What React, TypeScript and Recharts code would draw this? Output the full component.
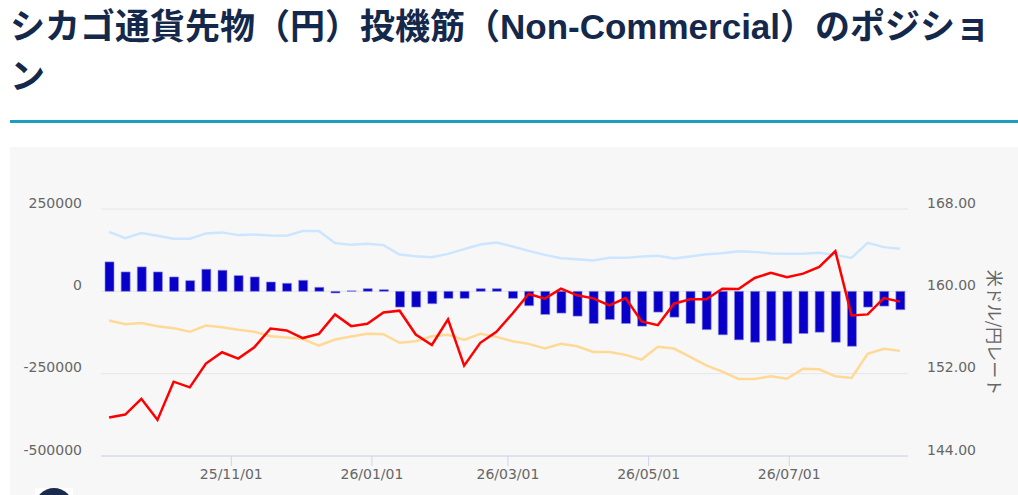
import { ComposedChart, Bar, Line, XAxis, YAxis, CartesianGrid } from "recharts";

// weekly report dates (Tuesday)
const dates = [
  "2025-09-09", "2025-09-16", "2025-09-23", "2025-09-30", "2025-10-07", "2025-10-14", "2025-10-21", "2025-10-28",
  "2025-11-04", "2025-11-11", "2025-11-18", "2025-11-25", "2025-12-02", "2025-12-09", "2025-12-16", "2025-12-23",
  "2025-12-30", "2026-01-06", "2026-01-13", "2026-01-20", "2026-01-27", "2026-02-03", "2026-02-10", "2026-02-17",
  "2026-02-24", "2026-03-03", "2026-03-10", "2026-03-17", "2026-03-24", "2026-03-31", "2026-04-07", "2026-04-14",
  "2026-04-21", "2026-04-28", "2026-05-05", "2026-05-12", "2026-05-19", "2026-05-26", "2026-06-02", "2026-06-09",
  "2026-06-16", "2026-06-23", "2026-06-30", "2026-07-07", "2026-07-14", "2026-07-21", "2026-07-28", "2026-08-04",
  "2026-08-11", "2026-08-18",
];

// long positions
const longPos = [
  180800, 161600, 176800, 168700, 159500, 159500, 175900, 179000, 170700, 172800,
  169800, 168700, 183000, 183000, 146400, 141200, 144300, 140300, 111900, 106700,
  103700, 113800, 128100, 142400, 148500, 136300, 122900, 110700, 100600, 97600,
  93600, 101600, 101600, 105700, 107700, 99700, 105700, 112800, 115900, 122000,
  119800, 114900, 113800, 113800, 116800, 110700, 101600, 147300, 134200, 129100,
];

// short positions
const shortPos = [
  -88400, -99600, -96500, -105700, -111800, -122900, -103700, -108800, -116900, -122900,
  -136200, -140300, -145000, -164600, -146400, -137200, -129100, -130100, -156400, -151400,
  -136200, -132200, -147400, -129100, -138200, -151400, -159500, -173800, -159500, -166700,
  -183900, -183900, -193000, -207300, -168600, -173800, -199100, -225000, -243900, -266200,
  -266200, -258200, -265300, -234800, -236800, -258200, -263200, -190000, -174700, -180800,
];

// net positions
const netPos = [
  89400, 58900, 74200, 58900, 43700, 32500, 67100, 64000, 47800, 43700,
  28400, 24400, 33500, 12200, -5000, 1500, 8100, 5100, -47800, -47800,
  -37600, -21300, -21300, 8100, 8100, -21300, -43600, -70100, -66100, -75300,
  -97600, -85400, -97600, -105700, -63100, -78400, -97600, -116300, -132000, -147300,
  -154600, -150300, -158500, -128100, -124100, -154600, -166800, -47800, -44800, -55800,
];

// USD/JPY
const usdJpy = [
  147.74, 148.03, 149.56, 147.51, 151.22, 150.67, 152.98, 154.08, 153.46, 154.57,
  156.39, 156.2, 155.46, 155.87, 157.76, 156.62, 156.85, 157.95, 158.12, 155.8,
  154.79, 157.27, 152.78, 155.0, 156.07, 157.85, 159.74, 159.29, 160.26, 159.61,
  159.32, 158.63, 159.35, 157.07, 156.71, 158.8, 159.22, 159.22, 160.26, 160.23,
  161.3, 161.79, 161.37, 161.72, 162.38, 163.9, 157.66, 157.76, 159.35, 159.0,
];

const monthTicks = ["2025-11-01", "2026-01-01", "2026-03-01", "2026-05-01", "2026-07-01"];
const leftTicks = [-500000, -250000, 0, 250000];
const rightTicks = [144, 152, 160, 168];

const DAY = 86400000;
const data = dates.map((d, i) => ({
  t: Date.parse(d),
  long: longPos[i],
  short: shortPos[i],
  net: netPos[i],
  rate: usdJpy[i],
}));
const xTicks = monthTicks.map((d) => Date.parse(d));
const xDomain = [data[0].t - 3.5 * DAY, data[data.length - 1].t + 3.5 * DAY];

const tickFont = "'DejaVu Sans', sans-serif";

const fmtDate = (v: number) => {
  const d = new Date(v);
  const yy = String(d.getUTCFullYear()).slice(2);
  const mm = String(d.getUTCMonth() + 1).padStart(2, "0");
  const dd = String(d.getUTCDate()).padStart(2, "0");
  return `${yy}/${mm}/${dd}`;
};

const LeftTick = (props: any) => (
  <text x={props.x} y={props.y - 1.5} textAnchor="end" fill="#666" fontSize={14} fontFamily={tickFont}>
    {props.payload.value}
  </text>
);

const RightTick = (props: any) => (
  <text x={props.x} y={props.y - 1.5} textAnchor="start" fill="#666" fontSize={14} fontFamily={tickFont}>
    {Number(props.payload.value).toFixed(2)}
  </text>
);

const BottomTick = (props: any) => (
  <text x={props.x} y={props.y + 13} textAnchor="middle" fill="#666" fontSize={14} fontFamily={tickFont}>
    {fmtDate(props.payload.value)}
  </text>
);

const RateLabel = (props: any) => {
  const vb = props.viewBox;
  const cx = vb.x + 87;
  const cy = vb.y + vb.height / 2;
  return (
    <text
      x={cx}
      y={cy}
      textAnchor="middle"
      dominantBaseline="central"
      fill="#666"
      fontSize={17}
      fontFamily="'Noto Sans CJK JP', sans-serif"
      transform={`rotate(90, ${cx}, ${cy})`}
    >
      米ドル/円レート
    </text>
  );
};

export default function App() {
  return (
    <div style={{ position: "absolute", left: 0, top: 0, width: 1018, height: 495, overflow: "hidden", background: "#fff" }}>
      <div
        style={{
          position: "absolute",
          left: 10,
          top: 2,
          fontSize: 35,
          lineHeight: "50px",
          fontWeight: 700,
          color: "#14284b",
          whiteSpace: "nowrap",
          fontFamily: "'Liberation Sans', 'Noto Sans CJK JP', sans-serif",
        }}
      >
        シカゴ通貨先物（円）投機筋（Non-Commercial）のポジショ
        <br />ン
      </div>
      <div style={{ position: "absolute", left: 10, top: 120, width: 1008, height: 3, background: "#1e9cc1" }} />
      <div style={{ position: "absolute", left: 10, top: 147, width: 1008, height: 348, background: "#f7f7f7" }} />
      <div style={{ position: "absolute", left: 10, top: 148 }}>
        <ComposedChart width={1008} height={347} data={data} margin={{ top: 61, right: 0, bottom: 0, left: 0 }}>
          <CartesianGrid yAxisId="left" horizontal vertical={false} stroke="#e6e6e6" />
          <XAxis
            dataKey="t"
            type="number"
            domain={xDomain}
            ticks={xTicks}
            height={39}
            axisLine={{ stroke: "#ccd6eb" }}
            tickLine={{ stroke: "#ccd6eb" }}
            tickSize={10}
            tickMargin={0}
            tick={<BottomTick />}
            allowDataOverflow
          />
          <YAxis
            yAxisId="left"
            width={91}
            domain={[-500000, 250000]}
            ticks={leftTicks}
            axisLine={false}
            tickLine={false}
            tickSize={0}
            tickMargin={19}
            tick={<LeftTick />}
            allowDataOverflow
          />
          <YAxis
            yAxisId="right"
            orientation="right"
            width={110}
            domain={[144, 168]}
            ticks={rightTicks}
            axisLine={false}
            tickLine={false}
            tickSize={0}
            tickMargin={19}
            tick={<RightTick />}
            label={<RateLabel />}
            allowDataOverflow
          />
          <Bar yAxisId="left" dataKey="net" barSize={9} fill="#0800c8" stroke="#8c8ce6" strokeWidth={0.6} isAnimationActive={false} />
          <Line yAxisId="left" type="linear" dataKey="long" stroke="#cce6ff" strokeWidth={2.5} dot={false} activeDot={false} isAnimationActive={false} />
          <Line yAxisId="left" type="linear" dataKey="short" stroke="#ffd995" strokeWidth={2.5} dot={false} activeDot={false} isAnimationActive={false} />
          <Line yAxisId="right" type="linear" dataKey="rate" stroke="#ff0000" strokeWidth={2.5} dot={false} activeDot={false} isAnimationActive={false} />
        </ComposedChart>
      </div>
      <div style={{ position: "absolute", left: 35, top: 488, width: 38, height: 38, background: "#fff" }}>
        <div style={{ width: 38, height: 38, borderRadius: "50%", background: "#1b2b4d" }} />
      </div>
    </div>
  );
}
